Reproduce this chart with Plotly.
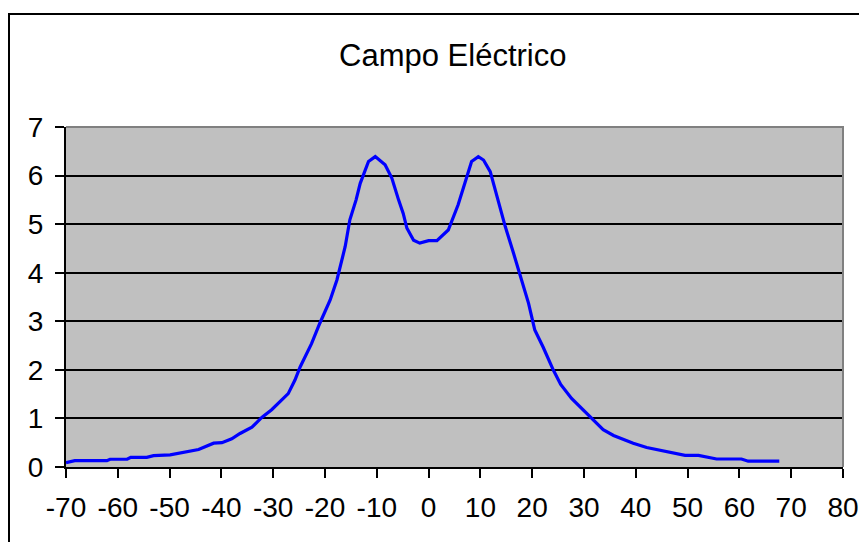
import plotly.graph_objects as go

# distance (x) and electric field (y)
x_vals = [-70, -68.3, -62.1, -61.5, -58.2, -57.5, -54.4, -53.1, -49.9, -47.3,
          -44.4, -41.5, -39.9, -38.0, -36.4, -34.1, -32.2, -30.3, -27.1, -25.8,
          -24.8, -22.6, -21.0, -19.0, -17.7, -16.1, -15.2, -14.0, -13.2, -11.6,
          -10.3, -8.4, -7.1, -5.8, -4.9, -4.2, -2.9, -1.7, 0, 1.6,
          3.8, 5.7, 7.4, 8.3, 9.6, 10.6, 11.9, 13.5, 14.8, 16.4,
          18.0, 19.3, 20.5, 22.1, 24.1, 25.5, 27.6, 31.8, 33.7, 35.7,
          39.5, 42.1, 46.0, 49.5, 52.1, 55.6, 60.4, 61.7, 67.7]
e_vals = [0.09, 0.13, 0.13, 0.16, 0.16, 0.2, 0.2, 0.235, 0.25, 0.3,
          0.36, 0.49, 0.5, 0.58, 0.69, 0.82, 1.02, 1.18, 1.51, 1.79,
          2.06, 2.54, 2.96, 3.44, 3.85, 4.54, 5.09, 5.5, 5.84, 6.29,
          6.39, 6.22, 5.95, 5.5, 5.22, 4.92, 4.67, 4.61, 4.66, 4.66,
          4.88, 5.4, 5.95, 6.29, 6.39, 6.32, 6.08, 5.46, 4.95, 4.4,
          3.81, 3.37, 2.82, 2.47, 1.99, 1.7, 1.41, 0.96, 0.77, 0.65,
          0.49, 0.4, 0.32, 0.24, 0.24, 0.165, 0.165, 0.12, 0.12]

x_ticks = [-70, -60, -50, -40, -30, -20, -10, 0, 10, 20, 30, 40, 50, 60, 70, 80]
x_tick_text = ['-70', '-60', '-50', '-40', '-30', '-20', '-10', '0',
               '10', '20', '30', '40', '50', '60', '70', '80']

font_name = 'Liberation Sans, Arial, sans-serif'

# the page adds an 8px body margin, so the figure is laid out 8px up/left
fig = go.Figure()
fig.add_trace(go.Scatter(x=x_vals, y=e_vals, mode='lines',
                         line=dict(color='#0000FF', width=3.2),
                         showlegend=False))

fig.update_layout(
    width=867, height=542,
    margin=dict(l=58, r=32, t=119, b=83),
    paper_bgcolor='white',
    plot_bgcolor='#C0C0C0',
    font=dict(family=font_name, color='black'),
    title=dict(text='Campo Eléctrico', x=0.513, xanchor='center',
               y=1 - 47 / 542, yanchor='middle',
               font=dict(size=31, family=font_name, color='black')),
)

fig.update_xaxes(range=[-70, 80], tickvals=x_ticks, ticktext=x_tick_text,
                 showgrid=False, zeroline=False, automargin=False,
                 showline=True, linecolor='black', linewidth=2,
                 ticks='outside', ticklen=9, tickwidth=2, tickcolor='black',
                 ticklabelstandoff=5,
                 tickfont=dict(size=28, family=font_name, color='black'))
fig.update_yaxes(range=[0, 7], dtick=1,
                 showgrid=True, gridcolor='black', gridwidth=2,
                 zeroline=False, automargin=False,
                 showline=True, linecolor='black', linewidth=2,
                 ticks='outside', ticklen=9, tickwidth=2, tickcolor='black',
                 ticklabelstandoff=6,
                 tickfont=dict(size=28, family=font_name, color='black'))

# gray top/right border of the plot area
fig.add_shape(type='path', xref='paper', yref='paper',
              path='M 0,1 L 1,1 L 1,0',
              line=dict(color='#808080', width=2))

# outer chart frame (runs past the right and bottom edges)
fig.add_shape(type='rect', xref='paper', yref='paper',
              x0=(1 - 58) / 777, x1=1.2, y0=-0.5, y1=(459 - 6) / 340,
              line=dict(color='black', width=2))

fig.write_html("out.html")
